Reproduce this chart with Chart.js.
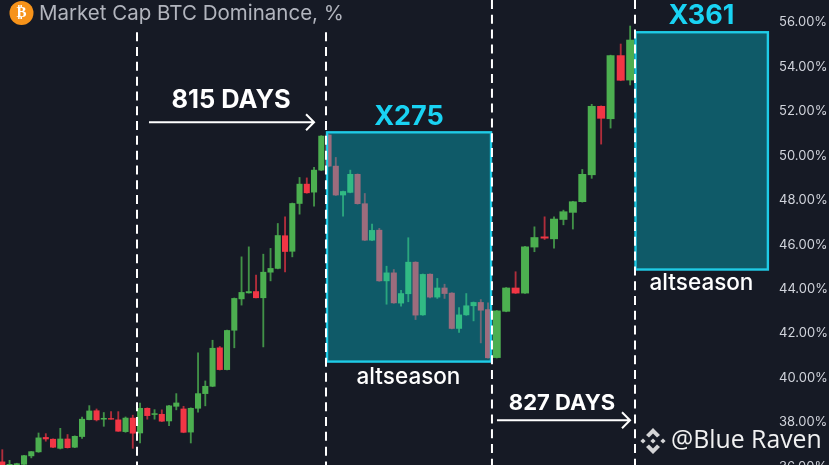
<!DOCTYPE html>
<html>
<head>
<meta charset="utf-8">
<title>Market Cap BTC Dominance</title>
<script src="https://cdn.jsdelivr.net/npm/chart.js@4"></script>
<style>
  html, body { margin: 0; padding: 0; background: #161a25; overflow: hidden; }
  #wrap { width: 829px; height: 465px; overflow: hidden; }
  canvas { display: block; }
</style>
</head>
<body>
<div id="wrap"><canvas id="chart" width="829" height="467"></canvas></div>
<script>
// Candle position on the time axis (spacing widens after the second altseason box)
const slots = [
  0, 1, 2, 3, 4, 5, 6, 7, 8, 9, 10, 11, 12, 13, 14, 15, 16, 17, 18, 19,
  20, 21, 22, 23, 24, 25, 26, 27, 28, 29, 30, 31, 32, 33, 34, 35, 36, 37, 38, 39,
  40, 41, 42, 43, 44, 45, 46, 47, 48, 49, 50, 51, 52, 53, 54, 55, 56, 57, 58, 59,
  60, 61, 62, 63, 64, 65, 66, 67,
  68.2, 69.5, 70.8, 72.1, 73.4, 74.8, 76.1, 77.4, 78.7, 80.0, 81.3, 82.6, 83.9, 85.3, 86.6,
];

const opens = [
  36.23, 35.95, 35.95, 36.12, 36.50, 36.68, 37.33, 37.25, 36.84, 37.26,
  36.89, 37.37, 38.13, 38.53, 38.15, 38.18, 38.12, 37.59, 38.20, 37.53,
  38.64, 38.36, 38.37, 38.07, 38.73, 38.61, 37.57, 38.64, 39.30, 39.63,
  41.36, 40.38, 42.15, 43.56, 43.83, 43.89, 43.61, 44.76, 44.93, 46.40,
  45.70, 47.85, 48.72, 48.36, 49.35, 50.93, 49.53, 48.23, 48.35, 49.16,
  47.84, 46.20, 46.65, 44.37, 44.73, 43.37, 43.79, 45.21, 42.84, 44.67,
  43.64, 44.05, 43.82, 42.23, 42.84, 43.25, 43.40, 43.08, 40.92, 43.00,
  44.05, 43.82, 45.89, 46.35, 46.26, 47.13, 47.45, 47.93, 49.14, 52.22,
  51.66, 54.50, 53.40,
];
const closes = [
  36.00, 36.12, 36.15, 36.51, 36.69, 37.31, 37.26, 36.89, 37.26, 36.87,
  37.38, 38.15, 38.52, 38.12, 38.19, 38.15, 37.61, 38.20, 37.52, 38.64,
  38.31, 38.40, 38.06, 38.75, 38.88, 37.56, 38.64, 39.30, 39.63, 41.34,
  40.38, 42.14, 43.58, 43.85, 43.89, 43.61, 44.76, 44.93, 46.41, 45.69,
  47.85, 48.72, 48.33, 49.35, 50.88, 49.53, 48.23, 48.39, 49.16, 47.84,
  46.20, 46.64, 44.37, 44.73, 43.38, 43.80, 45.21, 42.83, 44.66, 43.64,
  44.05, 43.80, 42.23, 42.84, 43.25, 43.40, 43.05, 40.91, 43.02, 44.05,
  43.82, 45.90, 46.32, 46.29, 47.15, 47.48, 47.93, 49.16, 52.22, 51.68,
  54.50, 53.39, 55.20,
];
const highs = [
  36.78, 36.30, 36.17, 36.53, 36.70, 37.53, 37.50, 37.27, 37.74, 37.46,
  37.40, 38.25, 38.76, 38.61, 38.45, 38.49, 38.49, 38.25, 38.33, 38.87,
  38.66, 38.58, 38.57, 38.77, 39.30, 38.73, 38.66, 41.13, 39.87, 41.70,
  41.42, 42.16, 43.60, 45.45, 45.90, 44.63, 45.57, 45.83, 46.95, 47.25,
  47.87, 49.02, 49.00, 49.47, 50.90, 50.95, 49.92, 48.41, 49.35, 49.18,
  48.30, 46.92, 46.73, 45.03, 44.88, 43.95, 46.31, 45.23, 44.68, 44.69,
  44.48, 44.22, 43.84, 43.17, 43.80, 43.42, 43.53, 43.38, 43.04, 44.07,
  44.78, 45.92, 46.80, 47.25, 47.25, 47.55, 47.95, 49.38, 52.31, 52.24,
  54.52, 55.02, 55.83,
];
const lows = [
  35.90, 35.90, 35.90, 36.10, 36.41, 36.66, 37.16, 36.87, 36.81, 36.85,
  36.87, 37.29, 38.12, 38.07, 37.83, 38.15, 37.60, 37.56, 36.84, 37.08,
  38.15, 38.15, 38.04, 37.86, 38.57, 37.54, 37.08, 38.47, 38.75, 39.61,
  40.36, 40.36, 41.36, 43.28, 43.82, 43.60, 41.40, 44.37, 44.91, 44.77,
  45.45, 47.37, 48.31, 47.73, 49.33, 49.50, 48.21, 47.28, 48.33, 47.82,
  46.18, 46.18, 44.35, 43.32, 43.36, 43.23, 43.43, 42.63, 42.82, 43.60,
  43.58, 43.58, 42.21, 42.05, 42.82, 42.57, 41.58, 40.89, 40.90, 42.98,
  43.80, 43.80, 45.68, 46.23, 45.84, 46.89, 46.70, 47.91, 48.98, 50.52,
  51.24, 53.37, 53.18,
];

const priceTicks = [36, 38, 40, 42, 44, 46, 48, 50, 52, 54, 56];

// Boxes: [slot start, slot end, top value, bottom value]
const altseasonBoxes = [
  [44.79, 67.41, 51.05, 40.74],
  [87.34, 105.6, 55.55, 44.88],
];
// Dashed markers: [slot, top value]
const markerLines = [
  [18.58, 55.55],
  [44.65, 55.55],
  [67.54, 57],
  [87.27, 57],
];
// Arrows: [slot start, slot end, value]
const arrows = [
  [20.23, 43.0, 51.5],
  [68.23, 86.58, 38.1],
];

const colors = {
  up: "#4caf50",
  down: "#f23645",
  upWick: "rgba(76,175,80,0.8)",
  downWick: "rgba(242,54,69,0.7)",
  box: "rgba(3,204,225,0.36)",
  boxLine: "#1fcbe6",
};

const isUp = (i) => closes[i] >= opens[i];
const body = (i) => ({ x: slots[i], y: [opens[i], closes[i]] });
const indexes = slots.map((_, i) => i);

const overlayPlugin = {
  id: "overlay",
  afterDatasetsDraw(chart) {
    const { ctx, scales } = chart;
    const px = (slot) => scales.x.getPixelForValue(slot);
    const py = (value) => scales.y.getPixelForValue(value);

    ctx.save();

    // Altseason boxes go on top of the candles, that's why they look tinted
    altseasonBoxes.forEach(([s1, s2, top, bottom]) => {
      const x = px(s1);
      const y = py(top);
      const w = px(s2) - x;
      const h = py(bottom) - y;
      ctx.fillStyle = colors.box;
      ctx.fillRect(x, y, w, h);
      ctx.strokeStyle = colors.boxLine;
      ctx.lineWidth = 2.4;
      ctx.strokeRect(x, y, w, h);
    });

    ctx.strokeStyle = "#ffffff";
    ctx.lineWidth = 2;
    ctx.setLineDash([9, 5.8]);
    markerLines.forEach(([slot, top]) => {
      ctx.beginPath();
      ctx.moveTo(px(slot), py(top));
      ctx.lineTo(px(slot), 465);
      ctx.stroke();
    });
    ctx.setLineDash([]);

    arrows.forEach(([s1, s2, value]) => {
      const x2 = px(s2);
      const y = py(value);
      ctx.beginPath();
      ctx.moveTo(px(s1), y);
      ctx.lineTo(x2, y);
      ctx.moveTo(x2 - 8, y - 8);
      ctx.lineTo(x2, y);
      ctx.lineTo(x2 - 8, y + 8);
      ctx.stroke();
    });

    ctx.textBaseline = "middle";
    ctx.textAlign = "center";
    ctx.fillStyle = "#ffffff";
    ctx.font = '700 25.4px Inter';
    ctx.fillText("815 DAYS", 231, 100);
    ctx.font = '700 22px Inter';
    ctx.fillText("827 DAYS", 562, 403);
    ctx.font = '500 22.5px Inter';
    ctx.fillText("altseason", 408.5, 377);
    ctx.fillText("altseason", 701.5, 283);

    ctx.fillStyle = "#19d3f3";
    ctx.font = '700 27px Inter';
    ctx.fillText("X275", 409, 117);
    ctx.fillText("X361", 701.5, 16);

    // Title and coin icon
    ctx.fillStyle = "#f7931a";
    ctx.beginPath();
    ctx.arc(21.5, 13, 12, 0, Math.PI * 2);
    ctx.fill();
    ctx.fillStyle = "#ffffff";
    ctx.font = '700 15px "DejaVu Sans"';
    ctx.fillText("₿", 21.5, 13.5);
    ctx.textAlign = "left";
    ctx.fillStyle = "#b2b5be";
    ctx.font = '400 20.5px Inter';
    ctx.fillText("Market Cap BTC Dominance, %", 39, 14);

    // Watermark
    ctx.fillStyle = "#d4d4d6";
    const diamond = (cx, cy, r) => {
      ctx.beginPath();
      ctx.moveTo(cx, cy - r);
      ctx.lineTo(cx + r, cy);
      ctx.lineTo(cx, cy + r);
      ctx.lineTo(cx - r, cy);
      ctx.closePath();
      ctx.fill();
    };
    diamond(653, 441, 2.6);
    diamond(643, 441, 2.6);
    diamond(663, 441, 2.6);
    const chevron = (dir) => {
      ctx.beginPath();
      ctx.moveTo(653, 441 - dir * 13);
      ctx.lineTo(660, 441 - dir * 6);
      ctx.lineTo(657, 441 - dir * 3.5);
      ctx.lineTo(653, 441 - dir * 7.5);
      ctx.lineTo(649, 441 - dir * 3.5);
      ctx.lineTo(646, 441 - dir * 6);
      ctx.closePath();
      ctx.fill();
    };
    chevron(1);
    chevron(-1);
    ctx.fillStyle = "#f1f1f2";
    ctx.font = '400 24.8px "Open Sans"';
    ctx.fillText("@Blue Raven", 671, 441);

    ctx.restore();
  },
};

new Chart(document.getElementById("chart"), {
  data: {
    datasets: [
      {
        type: "bar",
        order: 1,
        grouped: false,
        barThickness: 5.4,
        data: indexes.filter((i) => i < 68).map(body),
        backgroundColor: indexes.filter((i) => i < 68).map((i) => (isUp(i) ? colors.up : colors.down)),
      },
      {
        type: "bar",
        order: 1,
        grouped: false,
        barThickness: 7.3,
        data: indexes.filter((i) => i >= 68).map(body),
        backgroundColor: indexes.filter((i) => i >= 68).map((i) => (isUp(i) ? colors.up : colors.down)),
      },
      {
        type: "bar",
        order: 2,
        grouped: false,
        barThickness: 1.2,
        data: indexes.map((i) => ({ x: slots[i], y: [lows[i], highs[i]] })),
        backgroundColor: indexes.map((i) => (isUp(i) ? colors.upWick : colors.downWick)),
      },
    ],
  },
  options: {
    responsive: false,
    animation: false,
    devicePixelRatio: 1,
    layout: { padding: 0 },
    plugins: { legend: { display: false }, tooltip: { enabled: false } },
    scales: {
      x: {
        type: "linear",
        display: false,
        offset: false,
        min: -0.317,
        max: 106.58,
      },
      y: {
        type: "linear",
        position: "right",
        min: 36,
        max: 57,
        border: { display: false },
        grid: { display: false, drawTicks: false },
        afterFit: (scale) => {
          scale.width = 54;
          // labels may run past the canvas edge, the plot fills the full height
          scale.paddingTop = 0;
          scale.paddingBottom = 0;
        },
        afterBuildTicks: (scale) => {
          scale.ticks = priceTicks.map((value) => ({ value }));
        },
        ticks: {
          padding: 4,
          color: "#d1d4dc",
          font: { family: "Inter", size: 13 },
          callback: (value) => value.toFixed(2) + "%",
        },
      },
    },
  },
  plugins: [overlayPlugin],
});
</script>
</body>
</html>
